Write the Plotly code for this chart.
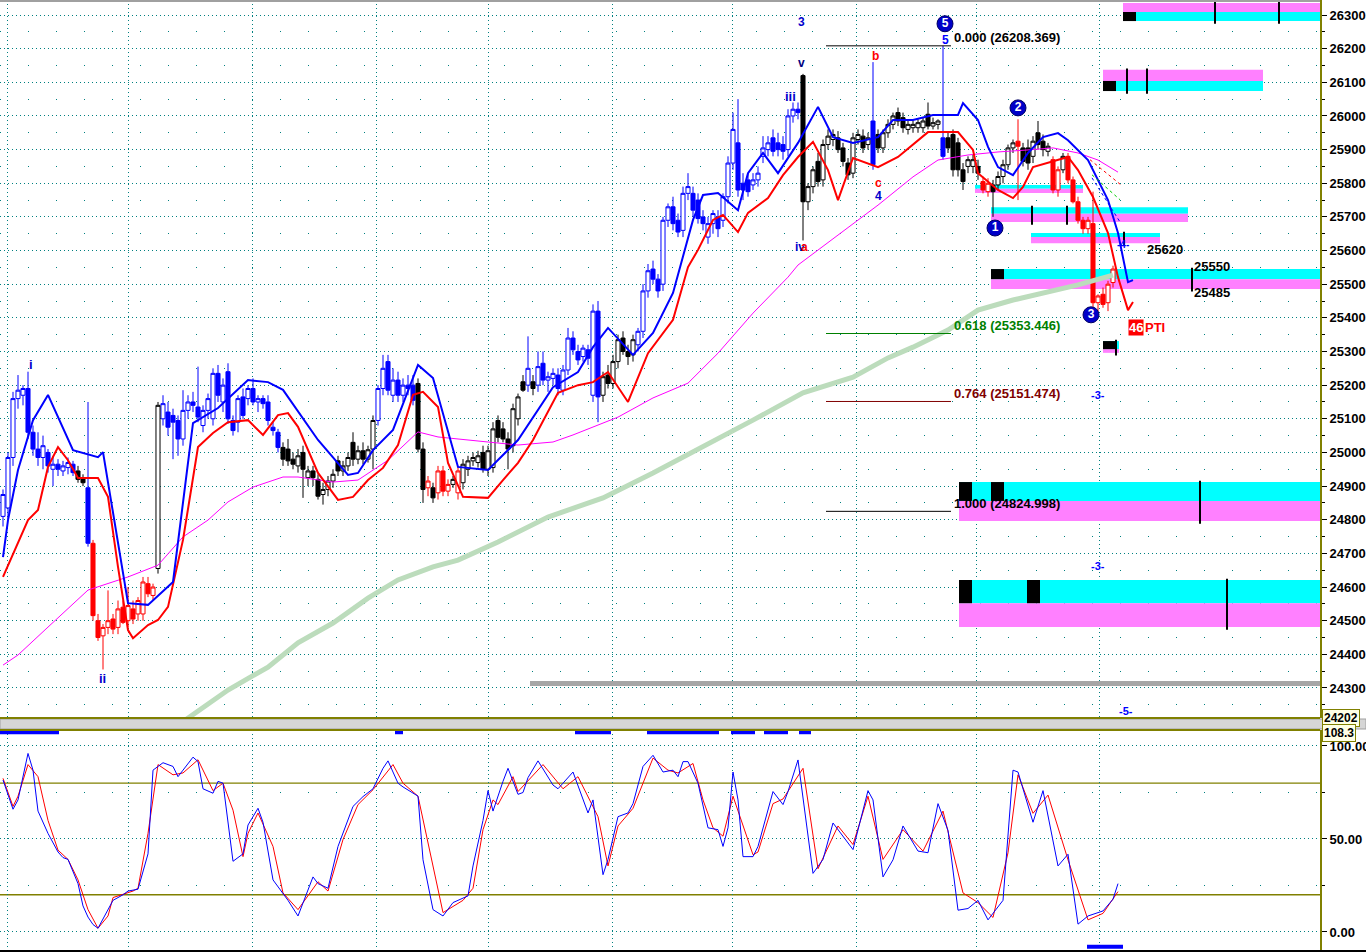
import plotly.graph_objects as go

# ---------------------------------------------------------------
# price bars, one per bar index (0 .. 222)
# ---------------------------------------------------------------
bar_open = [24810, 24835, 24985, 25160, 25170, 25190, 25060, 25010, 24985, 25000,
            24950, 24965, 24945, 24955, 24965, 24945, 24925, 24895, 24730, 24500,
            24455, 24480, 24505, 24480, 24540, 24500, 24535, 24520, 24520, 24610,
            24575, 24655, 25100, 25120, 25110, 25095, 25040, 25125, 25150, 25135,
            25080, 25125, 25100, 25235, 25150, 25240, 25095, 25090, 25165, 25160,
            25190, 25150, 25160, 25150, 25075, 25060, 25015, 25010, 24980, 24960,
            25000, 24925, 24945, 24920, 24875, 24890, 24915, 24975, 24945, 24960,
            25030, 24980, 25005, 24980, 25010, 25095, 25190, 25270, 25170, 25215,
            25170, 25200, 25200, 25205, 25010, 24895, 24895, 24880, 24945, 24885,
            24905, 24880, 24910, 24950, 24975, 24970, 25000, 24950, 24955, 25095,
            25070, 25040, 25020, 25100, 25210, 25200, 25210, 25200, 25265, 25215,
            25220, 25230, 25185, 25245, 25340, 25300, 25285, 25305, 25170, 25420,
            25170, 25230, 25205, 25270, 25340, 25300, 25290, 25320, 25360, 25480,
            25545, 25515, 25500, 25690, 25730, 25690, 25660, 25770, 25770, 25750,
            25700, 25640, 25680, 25700, 25690, 25760, 25860, 25920, 25800, 25810,
            25795, 25810, 25880, 25900, 25935, 25920, 25915, 25900, 26000, 26020,
            26120, 25745, 25790, 25865, 25810, 25915, 25930, 25935, 25905, 25860,
            25830, 25930, 25940, 25915, 25985, 25945, 25905, 25950, 25975, 26010,
            25995, 25960, 25965, 25965, 25965, 26005, 25970, 25975, 25935, 25935,
            25945, 25920, 25840, 25850, 25850, 25850, 25805, 25775, 25795, 25795,
            25820, 25855, 25905, 25925, 25905, 25905, 25880, 25950, 25925, 25895,
            25870, 25780, 25840, 25880, 25810, 25745, 25690, 25665, 25680, 25445,
            25470, 25445, 25505]
bar_high = [24890, 25000, 25180, 25230, 25200, 25240, 25080, 25060, 25050, 25010,
            24990, 24980, 24975, 24985, 24975, 24960, 24935, 25150, 24740, 24520,
            24490, 24590, 24520, 24560, 24560, 24600, 24560, 24570, 24630, 24630,
            24610, 25150, 25170, 25150, 25130, 25110, 25185, 25170, 25180, 25255,
            25140, 25175, 25250, 25260, 25220, 25265, 25110, 25170, 25190, 25200,
            25220, 25170, 25170, 25170, 25090, 25070, 25030, 25040, 25000, 25010,
            25020, 24960, 24960, 24935, 24910, 24930, 24950, 24990, 24975, 25000,
            25060, 25020, 25030, 25020, 25110, 25200, 25290, 25290, 25250, 25240,
            25220, 25230, 25230, 25220, 25030, 24930, 24910, 24960, 24960, 24920,
            24930, 24960, 24980, 24990, 25000, 25005, 25020, 25020, 25090, 25110,
            25090, 25060, 25145, 25175, 25230, 25345, 25230, 25300, 25300, 25240,
            25250, 25250, 25260, 25370, 25360, 25320, 25320, 25320, 25440, 25450,
            25240, 25260, 25290, 25350, 25360, 25320, 25350, 25370, 25500, 25560,
            25570, 25530, 25700, 25740, 25760, 25710, 25790, 25830, 25790, 25770,
            25720, 25700, 25720, 25720, 25770, 25880, 26010, 26050, 25830, 25830,
            25830, 25850, 25940, 25940, 25960, 25950, 25940, 26020, 26040, 26040,
            26125, 25800, 25850, 25890, 25930, 25960, 25960, 25955, 25920, 25875,
            25950, 25960, 25960, 25950, 26160, 25960, 25960, 25990, 26010, 26025,
            26010, 25990, 25985, 25990, 25995, 26040, 25995, 25990, 26208, 25950,
            25960, 25935, 25860, 25880, 25885, 25870, 25820, 25815, 25810, 25835,
            25870, 25915, 25930, 25990, 25920, 25930, 25940, 25985, 25945, 25920,
            25880, 25850, 25890, 25890, 25820, 25760, 25700, 25700, 25775, 25470,
            25490, 25510, 25555]
bar_low = [24780, 24800, 24960, 25130, 25140, 25040, 24990, 24960, 24950, 24940,
           24900, 24930, 24930, 24935, 24930, 24910, 24900, 24720, 24500, 24440,
           24355, 24460, 24460, 24460, 24490, 24480, 24490, 24500, 24500, 24570,
           24560, 24640, 25080, 25050, 24980, 24990, 25020, 25100, 25120, 25090,
           25060, 25100, 25080, 25150, 25120, 25085, 25050, 25060, 25100, 25140,
           25140, 25120, 25130, 25080, 25050, 25000, 24960, 24960, 24950, 24940,
           24865, 24900, 24900, 24860, 24845, 24870, 24895, 24930, 24930, 24945,
           24960, 24965, 24965, 24970, 24950, 25080, 25170, 25170, 25150, 25150,
           25150, 25170, 25140, 25000, 24850, 24870, 24850, 24860, 24870, 24870,
           24895, 24860, 24890, 24930, 24960, 24955, 24940, 24930, 24940, 25030,
           25030, 24950, 25000, 25080, 25180, 25180, 25170, 25180, 25200, 25180,
           25200, 25170, 25170, 25230, 25290, 25260, 25270, 25260, 25150, 25090,
           25150, 25190, 25190, 25250, 25290, 25260, 25270, 25300, 25340, 25460,
           25500, 25460, 25480, 25670, 25660, 25640, 25640, 25750, 25700, 25680,
           25660, 25620, 25650, 25640, 25670, 25740, 25840, 25760, 25750, 25760,
           25780, 25790, 25860, 25880, 25880, 25880, 25870, 25880, 25980, 25990,
           25630, 25720, 25770, 25790, 25790, 25900, 25910, 25890, 25850, 25810,
           25815, 25915, 25890, 25900, 25840, 25890, 25890, 25935, 25960, 25970,
           25950, 25945, 25950, 25950, 25950, 25960, 25960, 25960, 25870, 25890,
           25820, 25820, 25780, 25830, 25830, 25810, 25770, 25760, 25700, 25780,
           25800, 25840, 25890, 25750, 25850, 25840, 25860, 25900, 25880, 25880,
           25770, 25760, 25830, 25800, 25740, 25680, 25650, 25650, 25410, 25420,
           25430, 25420, 25490]
bar_close = [24875, 24985, 25160, 25185, 25190, 25060, 25010, 24985, 25020, 24960,
             24965, 24950, 24960, 24970, 24940, 24920, 24910, 24730, 24515, 24450,
             24480, 24500, 24475, 24535, 24495, 24545, 24505, 24560, 24615, 24580,
             24600, 25140, 25145, 25075, 25090, 25040, 25125, 25150, 25140, 25105,
             25125, 25160, 25235, 25170, 25200, 25100, 25065, 25160, 25110, 25190,
             25150, 25160, 25145, 25095, 25065, 25015, 24980, 24975, 24965, 24990,
             24950, 24945, 24925, 24870, 24890, 24915, 24935, 24945, 24960, 24985,
             24980, 25005, 24980, 25008, 25095, 25190, 25250, 25185, 25215, 25170,
             25200, 25190, 25155, 25010, 24890, 24915, 24865, 24945, 24885, 24905,
             24920, 24945, 24965, 24975, 24985, 24990, 24950, 25005, 25070, 25045,
             25040, 25010, 25130, 25165, 25185, 25250, 25190, 25255, 25215, 25225,
             25235, 25190, 25245, 25340, 25305, 25275, 25310, 25280, 25420, 25165,
             25225, 25205, 25270, 25335, 25300, 25285, 25335, 25360, 25480, 25540,
             25515, 25480, 25690, 25730, 25680, 25655, 25770, 25790, 25720, 25695,
             25680, 25680, 25710, 25665, 25760, 25860, 25960, 25780, 25780, 25775,
             25810, 25830, 25905, 25920, 25895, 25900, 25895, 26000, 26020, 26010,
             25745, 25790, 25840, 25805, 25915, 25940, 25945, 25900, 25865, 25825,
             25935, 25945, 25905, 25935, 25855, 25905, 25950, 25975, 26000, 25985,
             25965, 25975, 25975, 25980, 25985, 25970, 25980, 25985, 25880, 25905,
             25840, 25840, 25805, 25870, 25870, 25830, 25780, 25800, 25775, 25820,
             25855, 25905, 25920, 25910, 25865, 25860, 25925, 25915, 25900, 25910,
             25780, 25840, 25880, 25810, 25745, 25690, 25665, 25690, 25445, 25465,
             25440, 25500, 25545]
# trend state of each bar: b = up (blue), k = neutral (black), r = down (red)
state_runs = [("b", 15), ("k", 2), ("b", 1), ("r", 13), ("k", 1), ("b", 24),
              ("k", 19), ("b", 8), ("k", 2), ("r", 1), ("k", 1), ("r", 3),
              ("k", 1), ("r", 1), ("k", 13), ("b", 1), ("k", 1), ("b", 13),
              ("k", 7), ("b", 33), ("k", 14), ("b", 1), ("k", 13), ("b", 1),
              ("k", 7), ("r", 2), ("k", 5), ("r", 1), ("k", 6), ("r", 2),
              ("k", 1), ("r", 10)]

# ---------------------------------------------------------------
# overlay lines (bar index, price)
# ---------------------------------------------------------------
blue_x = [0, 1, 3, 6, 9, 14, 19, 20, 25, 29, 34, 38, 43, 49, 53, 56, 63, 69, 71, 74,
          78, 83, 86, 91, 97, 103, 110, 115, 118, 121, 126, 130, 134, 138, 140, 143,
          147, 149, 152, 155, 159, 163, 166, 170, 175, 178, 182, 186, 191, 192, 195,
          197, 199, 202, 205, 208, 211, 213, 217, 221, 223, 225, 226]
blue_y = [24689, 24799, 24948, 25096, 25171, 25007, 24986, 25001, 24552, 24547,
          24615, 25087, 25132, 25215, 25209, 25186, 25037, 24933, 24939, 25007,
          25067, 25260, 25221, 24957, 24948, 25037, 25194, 25239, 25313, 25370,
          25290, 25355, 25474, 25691, 25765, 25771, 25720, 25830, 25890, 25830,
          25920, 26027, 25937, 25920, 25937, 25988, 25988, 26003, 26003, 26038,
          25988, 25908, 25848, 25824, 25890, 25937, 25949, 25928, 25869, 25750,
          25652, 25506, 25512]
red_x = [0, 5, 7, 9, 11, 13, 15, 19, 21, 23, 25, 26, 29, 31, 33, 36, 39, 42, 45, 49,
         52, 55, 57, 59, 63, 67, 70, 73, 76, 79, 82, 84, 87, 89, 92, 97, 100, 103, 106,
         111, 115, 118, 121, 125, 129, 134, 137, 139, 142, 144, 147, 149, 153, 156,
         159, 162, 165, 167, 170, 175, 179, 183, 185, 191, 194, 195, 199, 202, 204,
         206, 211, 213, 215, 218, 221, 223, 225, 226]
red_y = [24630, 24799, 24829, 24957, 25016, 24977, 24924, 24924, 24868, 24660,
         24472, 24448, 24487, 24502, 24541, 24740, 25016, 25058, 25090, 25096,
         25052, 25111, 25117, 25076, 24939, 24859, 24868, 24918, 24954, 25022,
         25171, 25180, 25135, 24969, 24868, 24865, 24918, 24969, 25037, 25177,
         25200, 25209, 25239, 25150, 25295, 25394, 25551, 25602, 25691, 25706,
         25655, 25712, 25756, 25824, 25878, 25923, 25839, 25750, 25875, 25848,
         25878, 25928, 25952, 25952, 25899, 25830, 25780, 25756, 25789, 25848,
         25869, 25878, 25839, 25759, 25652, 25521, 25423, 25447]
mag_x = [0, 3, 9, 17, 25, 31, 36, 41, 45, 50, 56, 59, 66, 71, 77, 83, 87, 97, 103,
         110, 114, 123, 130, 137, 143, 150, 157, 159, 167, 175, 182, 187, 193, 199,
         205, 210, 215, 219, 223]
mag_y = [24368, 24398, 24481, 24591, 24630, 24665, 24749, 24799, 24853, 24897,
         24927, 24927, 24912, 24918, 24977, 25061, 25046, 25031, 25022, 25031,
         25052, 25105, 25162, 25206, 25295, 25414, 25521, 25557, 25646, 25735,
         25819, 25869, 25884, 25893, 25899, 25905, 25890, 25869, 25833]
green_x = [36, 45, 53, 59, 66, 73, 79, 86, 91, 99, 109, 120, 130, 140, 150, 160, 170,
           177, 182, 189, 195, 202, 209, 215, 222]
green_y = [24200, 24294, 24362, 24434, 24493, 24567, 24621, 24660, 24680, 24734,
           24808, 24865, 24939, 25016, 25096, 25177, 25224, 25281, 25313, 25364,
           25423, 25453, 25477, 25498, 25527]
# projection markers
proj_colors = ["#ff0000", "#00cc00", "#0000ff"]
proj_x = [[217.4, 223.6], [217.8, 223.4], [217.8, 223.4]]
proj_y = [[25870, 25795], [25825, 25751], [25816, 25685]]

support_x = [105.4, 263.4]
support_y = [24313, 24313]

# fibonacci retracement
fib_ratio = ["0.000", "0.618", "0.764", "1.000"]
fib_price = [26208.369, 25353.446, 25151.474, 24824.998]
fib_color = ["#000000", "#008000", "#800000", "#000000"]
fib_x = [164.6, 189.6]

# target zones: x-extent, top / middle / bottom price, colour of upper half
zone_x0 = [224, 220, 194.4, 197.6, 205.6, 197.6, 220, 191.2, 191.2]
zone_x1 = [263.4, 252, 216, 237, 231.4, 263.4, 223.2, 263.4, 263.4]
zone_top = [26336, 26137, 25795, 25729, 25652, 25545, 25331, 24912, 24621]
zone_mid = [26309, 26104, 25784, 25709, 25640, 25515, 25307, 24856, 24552]
zone_bot = [26282, 26074, 25771, 25685, 25622, 25486, 25296, 24796, 24481]
zone_upper = ["m", "m", "c", "c", "c", "c", "c", "c", "c"]
block_x0 = [224, 220, 197.6, 191.2, 197.6, 191.2, 204.8, 220]
block_x1 = [226.6, 222.6, 200.2, 193.8, 200.2, 193.8, 207.4, 222.6]
block_zone = [0, 1, 5, 7, 7, 8, 8, 6]
tick_x = [242.4, 255.2, 224.8, 228.8, 205.8, 212.8, 224.2, 237.8, 239.4, 244.8, 222.6]
tick_zone = [0, 0, 1, 1, 3, 3, 4, 5, 7, 8, 6]

# session separators (vertical grid)
session_x = [0.8, 25, 49.8, 74.6, 97, 121.8, 145.8, 170.6, 194.6, 219.2]

# wave labels
lab_text = ["i", "ii", "iii", "v", "3", "iv", "a", "b", "c", "4", "5",
            "-3-", "-3-", "-5-", "-4-", "25620", "25550", "25485"]
lab_x = [5.6, 19.8, 157.4, 159.6, 159.6, 159.4, 160.2, 174.4, 175, 175, 188.4,
         219, 219, 224.6, 224, 232.4, 241.8, 241.8]
lab_y = [25262, 24327, 26057, 26158, 26280, 25611, 25611, 26178, 25801, 25763, 26226,
         25171, 24663, 24232, 25617, 25604, 25554, 25474]
lab_color = ["#0000cc", "#0000cc", "#0000cc", "#000080", "#0000cc", "#0000cc",
             "#ff0000", "#ff0000", "#ff0000", "#0000cc", "#0000ff",
             "#0000ff", "#0000ff", "#0000ff", "#0000ff", "#000000", "#000000", "#000000"]
lab_size = [13, 13, 13, 12, 12, 12, 12, 12, 12, 12, 12, 11, 11, 11, 10, 13, 13, 13]
circ_text = ["5", "1", "2", "3"]
circ_x = [188.4, 198.4, 203, 217.6]
circ_y = [26274, 25667, 26024, 25409]

# ---------------------------------------------------------------
# stochastic oscillator
# ---------------------------------------------------------------
k_x = [0, 2, 3, 4, 5, 6, 7, 9, 11, 12, 13, 15, 16, 17, 18, 19, 21, 22, 24, 25,
       27, 29, 30, 32, 34, 35, 36, 38, 39, 40, 42, 43, 44, 46, 48, 49, 51, 52, 54, 57,
       59, 62, 63, 65, 67, 70, 72, 74, 76, 77, 79, 80, 83, 84, 86, 88, 90, 93, 94, 96,
       97, 98, 100, 101, 103, 104, 105, 107, 110, 111, 114, 116, 117, 118, 120, 121,
       123, 125, 126, 128, 130, 132, 134, 135, 136, 137, 139, 141, 143, 144, 145, 146,
       147, 148, 150, 151, 154, 156, 157, 159, 162, 164, 166, 170, 173, 174, 176, 178,
       180, 183, 185, 187, 189, 191, 193, 195, 197, 200, 202, 203, 206, 208, 211, 213,
       215, 217, 220, 222, 223]
k_val = [81.7, 66, 71, 83.5, 96, 87, 65, 53, 43, 40, 39, 26, 14, 8, 4, 2, 12, 17, 20, 22,
         23, 42, 87, 91, 89, 83.5, 87, 94, 91.6, 77, 74.6, 81, 80, 38, 42, 57.5, 66.5, 59,
         28, 17, 8.6, 29.6, 26, 23.5, 46, 67.5, 72.8, 77, 88, 92, 80, 78, 73, 38.8, 12,
         8.6, 15.8, 19.4, 35.5, 60, 76, 65, 81, 88, 74, 75, 83, 92, 79, 77, 86, 71, 64,
         71, 30.8, 39, 62, 64, 69, 89, 95, 86, 87, 83.5, 91.6, 91.6, 80, 56, 55, 46, 56,
         86, 71, 40.5, 40.5, 46, 75.5, 68.5, 75.5, 92.5, 31.5, 39, 58.6, 44.3, 76, 71,
         29.6, 38.8, 57, 43.5, 42.6, 69, 54.6, 11.7, 12.6, 17, 6.5, 17, 87, 86, 59, 76,
         35.5, 41.8, 4.2, 8.6, 11.3, 17.6, 26]
d_x = [0, 2, 3, 5, 7, 9, 11, 13, 15, 17, 19, 21, 22, 26, 27, 29, 31, 34, 36, 39,
       42, 44, 46, 48, 49, 51, 54, 56, 59, 63, 65, 68, 71, 74, 78, 80, 83, 86, 88, 92,
       94, 96, 98, 99, 102, 103, 108, 112, 115, 119, 121, 123, 126, 130, 133, 135, 138,
       140, 142, 144, 146, 150, 151, 154, 156, 160, 163, 167, 170, 173, 176, 180, 184,
       188, 192, 195, 198, 201, 203, 206, 209, 213, 217, 220, 223]
d_val = [82.6, 67.5, 73, 90, 83.5, 60, 44, 39, 28, 12, 2, 8.6, 18.5, 22, 23.5, 53, 90,
         84.5, 85.5, 92.6, 76, 80, 65.5, 40.5, 53, 64, 46, 21, 12, 27, 22, 49.7, 68.5,
         76.5, 90, 80, 73, 35.5, 10.4, 17, 23.5, 55, 71, 68.5, 83.5, 75.5, 90, 77, 83.5,
         62, 35.5, 57, 66.5, 93.5, 87, 85.5, 90.6, 71, 56, 51.5, 73, 41.5, 43, 69, 71.5,
         88, 34, 57, 47, 73, 39, 55, 43.5, 65, 21, 15.8, 7.8, 42.6, 84.5, 63.8, 73.6,
         38.8, 6.5, 10, 21.7]
stoch_levels = [20, 80]
sig_top_x0 = [-1, 78.4, 114.4, 128.8, 145.6, 152.2, 159.2]
sig_top_x1 = [11.2, 80, 121.6, 143.2, 150.4, 157, 161.6]
sig_bot_x0 = [216.8]
sig_bot_x1 = [224]

# ---------------------------------------------------------------
W, H = 1366, 952
FONT = "Liberation Sans, Arial, sans-serif"
TEAL = "#008080"
OLIVE = "#808000"


def py(px):
    # pixel row -> paper coordinate
    return 1 - px / H


bar_state = []
for s, k in state_runs:
    bar_state += [s] * k
bar_x = list(range(len(bar_close)))

fig = go.Figure()

# cyan / magenta target zones
zone_cols = {"c": "#00ffff", "m": "#ff80ff"}
shapes = []
for i in range(len(zone_x0)):
    up = zone_cols[zone_upper[i]]
    lo = "#ff80ff" if zone_upper[i] == "c" else "#00ffff"
    shapes.append(dict(type="rect", xref="x", yref="y", x0=zone_x0[i], x1=zone_x1[i],
                       y0=zone_mid[i], y1=zone_top[i], fillcolor=up, line_width=0,
                       layer="between"))
    shapes.append(dict(type="rect", xref="x", yref="y", x0=zone_x0[i], x1=zone_x1[i],
                       y0=zone_bot[i], y1=zone_mid[i], fillcolor=lo, line_width=0,
                       layer="between"))
for j in range(len(block_x0)):
    z = block_zone[j]
    cy0, cy1 = (zone_mid[z], zone_top[z]) if zone_upper[z] == "c" else (zone_bot[z], zone_mid[z])
    shapes.append(dict(type="rect", xref="x", yref="y", x0=block_x0[j], x1=block_x1[j],
                       y0=cy0, y1=cy1, fillcolor="black", line_width=0, layer="between"))
for j in range(len(tick_x)):
    z = tick_zone[j]
    shapes.append(dict(type="line", xref="x", yref="y", x0=tick_x[j], x1=tick_x[j],
                       y0=zone_bot[z] - 8, y1=zone_top[z] + 4,
                       line=dict(color="black", width=2), layer="between"))

# stochastic reference levels
for lv in stoch_levels:
    shapes.append(dict(type="line", xref="paper", yref="y2", x0=0, x1=1, y0=lv, y1=lv,
                       line=dict(color=OLIVE, width=1.3), layer="between"))

# panel frame / separator
shapes += [
    dict(type="rect", xref="paper", yref="paper", x0=0, x1=W / 1320, y0=py(729), y1=py(719),
         fillcolor="#d6d6d6", line=dict(color="#a0a0a0", width=1)),
    dict(type="line", xref="paper", yref="paper", x0=0, x1=1, y0=py(718), y1=py(718),
         line=dict(color=OLIVE, width=2)),
    dict(type="line", xref="paper", yref="paper", x0=0, x1=1, y0=py(730), y1=py(730),
         line=dict(color=OLIVE, width=2)),
    dict(type="line", xref="paper", yref="paper", x0=0, x1=1, y0=py(1), y1=py(1),
         line=dict(color="#a0a0a0", width=2)),
    dict(type="line", xref="paper", yref="paper", x0=0, x1=W / 1320, y0=py(951), y1=py(951),
         line=dict(color="black", width=2)),
]

# slow moving average (thick pale green)
fig.add_trace(go.Scatter(x=green_x, y=green_y, mode="lines",
                         line=dict(color="#bcdcbc", width=5), hoverinfo="skip",
                         showlegend=False))
fig.add_trace(go.Scatter(x=support_x, y=support_y, mode="lines",
                         line=dict(color="#a6a6a6", width=5), hoverinfo="skip",
                         showlegend=False))

# candles, split by trend state
candle_colors = {"b": "#0000ff", "k": "#000000", "r": "#ff0000"}
for s, col in candle_colors.items():
    idx = [i for i in bar_x if bar_state[i] == s]
    fig.add_trace(go.Candlestick(
        x=idx,
        open=[bar_open[i] for i in idx],
        high=[bar_high[i] for i in idx],
        low=[bar_low[i] for i in idx],
        close=[bar_close[i] for i in idx],
        increasing=dict(line=dict(color=col, width=1), fillcolor="white"),
        decreasing=dict(line=dict(color=col, width=1), fillcolor=col),
        whiskerwidth=0, hoverinfo="skip", showlegend=False))

fig.add_trace(go.Scatter(x=mag_x, y=mag_y, mode="lines",
                         line=dict(color="#ff00ff", width=1), hoverinfo="skip",
                         showlegend=False))
fig.add_trace(go.Scatter(x=red_x, y=red_y, mode="lines",
                         line=dict(color="#ff0000", width=2), hoverinfo="skip",
                         showlegend=False))
fig.add_trace(go.Scatter(x=blue_x, y=blue_y, mode="lines",
                         line=dict(color="#0000ff", width=2), hoverinfo="skip",
                         showlegend=False))
for c, xs, ys in zip(proj_colors, proj_x, proj_y):
    fig.add_trace(go.Scatter(x=xs, y=ys, mode="lines",
                             line=dict(color=c, width=1, dash="dot"),
                             hoverinfo="skip", showlegend=False))

# fibonacci levels
annotations = []
for r, p, c in zip(fib_ratio, fib_price, fib_color):
    fig.add_trace(go.Scatter(x=fib_x, y=[p, p], mode="lines", line=dict(color=c, width=1),
                             hoverinfo="skip", showlegend=False))
    annotations.append(dict(x=fib_x[1] + 0.1, y=p, xref="x", yref="y",
                            text="%s (%s)" % (r, f"{p:.3f}"), showarrow=False,
                            xanchor="left", yanchor="middle", yshift=8,
                            font=dict(family=FONT, size=13, color=c, weight="bold")))

for t, x, y, c, sz in zip(lab_text, lab_x, lab_y, lab_color, lab_size):
    annotations.append(dict(x=x, y=y, xref="x", yref="y", text=t, showarrow=False,
                            font=dict(family=FONT, size=sz, color=c, weight="bold")))

annotations += [
    dict(x=226.6, y=25372, xref="x", yref="y", text="46", showarrow=False,
         bgcolor="#ff0000", borderpad=0,
         font=dict(family=FONT, size=13, color="white", weight="bold")),
    dict(x=230.4, y=25372, xref="x", yref="y", text="PTI", showarrow=False,
         font=dict(family=FONT, size=13, color="#ff0000", weight="bold")),
    dict(x=1.0, y=py(718), xref="paper", yref="paper", text="24202", showarrow=False,
         xanchor="left", yanchor="middle", bgcolor="#ffffe6", bordercolor=OLIVE,
         borderwidth=1, borderpad=1, xshift=2,
         font=dict(family=FONT, size=12, color="black", weight="bold")),
    dict(x=1.0, y=py(733), xref="paper", yref="paper", text="108.3", showarrow=False,
         xanchor="left", yanchor="middle", bgcolor="#ffffe6", bordercolor=OLIVE,
         borderwidth=1, borderpad=1, xshift=2,
         font=dict(family=FONT, size=12, color="black", weight="bold")),
]

# circled wave counts
fig.add_trace(go.Scatter(x=circ_x, y=circ_y, mode="markers+text", text=circ_text,
                         textposition="middle center",
                         marker=dict(size=16, color="#0000c8", line=dict(color="#000060", width=1)),
                         textfont=dict(family=FONT, size=12, color="white", weight="bold"),
                         hoverinfo="skip", showlegend=False))

# stochastic panel
fig.add_trace(go.Scatter(x=d_x, y=d_val, mode="lines", xaxis="x2", yaxis="y2",
                         line=dict(color="#ff0000", width=1), hoverinfo="skip",
                         showlegend=False))
fig.add_trace(go.Scatter(x=k_x, y=k_val, mode="lines", xaxis="x2", yaxis="y2",
                         line=dict(color="#0000ff", width=1), hoverinfo="skip",
                         showlegend=False))
for x0, x1 in zip(sig_top_x0, sig_top_x1):
    fig.add_trace(go.Scatter(x=[x0, x1], y=[107.4, 107.4], mode="lines", xaxis="x2",
                             yaxis="y2", line=dict(color="#0000ff", width=4),
                             hoverinfo="skip", showlegend=False))
for x0, x1 in zip(sig_bot_x0, sig_bot_x1):
    fig.add_trace(go.Scatter(x=[x0, x1], y=[-8, -8], mode="lines", xaxis="x2",
                             yaxis="y2", line=dict(color="#0000ff", width=4),
                             hoverinfo="skip", showlegend=False))

xax = dict(range=[-0.6, 263.4], showticklabels=False, ticks="", tickvals=session_x,
           showgrid=True, gridcolor=TEAL, griddash="1px,3px", gridwidth=1,
           zeroline=False, showline=False, rangeslider=dict(visible=False))

fig.update_layout(
    width=W, height=H,
    margin=dict(l=0, r=46, t=0, b=0, autoexpand=False),
    paper_bgcolor="white", plot_bgcolor="white",
    boxgap=0.1, boxgroupgap=0.1,
    showlegend=False,
    xaxis=dict(xax, domain=[0, 1], anchor="y"),
    xaxis2=dict(xax, domain=[0, 1], anchor="y2", matches="x"),
    yaxis=dict(domain=[py(718), 1], range=[24210.8, 26344.6], side="right",
               tick0=0, dtick=100, tickformat="d", ticks="outside", ticklen=5,
               tickcolor="black", automargin=False,
               showgrid=True, gridcolor=TEAL, griddash="1px,3px", gridwidth=1,
               zeroline=False, showline=True, linecolor=OLIVE, linewidth=2,
               tickfont=dict(family=FONT, size=13, color="black", weight="bold"),
               minor=dict(dtick=50, showgrid=True, gridcolor=TEAL, griddash="1px,27px",
                          ticks="outside", ticklen=3, tickcolor="black")),
    yaxis2=dict(domain=[py(950), py(730)], range=[-9.7, 108.6], side="right",
                tickvals=[0, 50, 100], ticktext=["0.00", "50.00", "100.00"],
                ticks="outside", ticklen=5, tickcolor="black", automargin=False,
                showgrid=True, gridcolor=TEAL, griddash="1px,3px", gridwidth=1,
                zeroline=False, showline=True, linecolor=OLIVE, linewidth=2,
                tickfont=dict(family=FONT, size=13, color="black", weight="bold"),
                minor=dict(tickvals=[25, 75], showgrid=True, gridcolor=TEAL,
                           griddash="1px,27px", ticks="outside", ticklen=3,
                           tickcolor="black")),
    shapes=shapes,
    annotations=annotations,
)

# page body has a default margin; remove it so the chart sits at the window corner
fig.write_html("out.html", config={"displayModeBar": False},
               post_script="document.body.style.margin='0';")
